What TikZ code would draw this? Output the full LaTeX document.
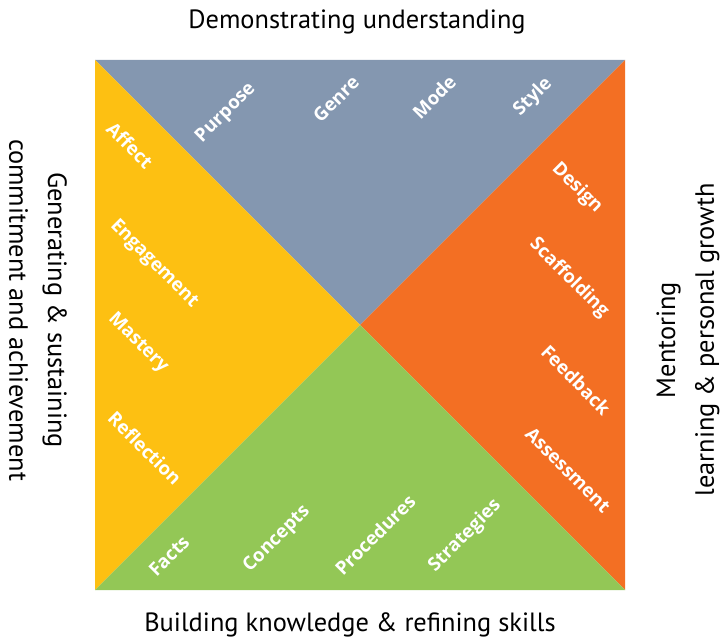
\documentclass[tikz,border=0pt]{standalone}
\usepackage{fontspec}
\setmainfont{PT Sans}
\newfontfamily\labelfont{Open Sans}
\usetikzlibrary{positioning}

\definecolor{purposeblue}{HTML}{8497B0}
\definecolor{affectyellow}{HTML}{FDC012}
\definecolor{designorange}{HTML}{F36F23}
\definecolor{factsgreen}{HTML}{93C756}

\tikzset{
    facet/.style={font=\labelfont\bfseries\fontsize{14}{16}\selectfont, text=white, inner sep=0pt},
    caption/.style={font=\fontsize{19.8}{29}\selectfont, inner sep=0pt, align=center}
}

\begin{document}
\begin{tikzpicture}[x=0.75pt, y=-0.75pt]
    \useasboundingbox (0,0) rectangle (721,638);

    % corners of the square
    \coordinate (tl) at (95,60);
    \coordinate (tr) at (625,60);
    \coordinate (bl) at (95,590);
    \coordinate (br) at (625,590);
    \coordinate (mid) at (360,325);

    \fill[purposeblue]  (tl) -- (tr) -- (mid) -- cycle;
    \fill[affectyellow] (tl) -- (mid) -- (bl) -- cycle;
    \fill[designorange] (tr) -- (br) -- (mid) -- cycle;
    \fill[factsgreen]   (bl) -- (mid) -- (br) -- cycle;

    % top
    \node[facet, rotate=45] (purpose) at (226,113) {Purpose};
    \node[facet, rotate=45] (genre) at (336,99) {Genre};
    \node[facet, rotate=45] (mode) at (434,97) {Mode};
    \node[facet, rotate=45] (style) at (533,97) {Style};

    % left
    \node[facet, rotate=-45] (affect) at (130,145) {Affect};
    \node[facet, rotate=-45] (engagement) at (154,264) {Engagement};
    \node[facet, rotate=-45] (mastery) at (138,343) {Mastery};
    \node[facet, rotate=-45] (reflection) at (145,448) {Reflection};

    % right
    \node[facet, rotate=-45] (design) at (577,188) {Design};
    \node[facet, rotate=-45] (scaffolding) at (569,278) {Scaffolding};
    \node[facet, rotate=-45] (feedback) at (576,380) {Feedback};
    \node[facet, rotate=-45] (assessment) at (568,470) {Assessment};

    % bottom
    \node[facet, rotate=45] (facts) at (169,556) {Facts};
    \node[facet, rotate=45] (concepts) at (277,539) {Concepts};
    \node[facet, rotate=45] (procedures) at (375,535) {Procedures};
    \node[facet, rotate=45] (strategies) at (465,536) {Strategies};

    % outer captions
    \node[caption] (understanding) at (357,22) {Demonstrating understanding};
    \node[caption] (knowledge) at (350,625) {Building knowledge \& refining skills};
    \node[caption, rotate=-90] (commitment) at (38,310) {Generating \& sustaining\\commitment and achievement};
    \node[caption, rotate=90] (mentoring) at (688,340) {Mentoring\\learning \& personal growth};
\end{tikzpicture}
\end{document}
